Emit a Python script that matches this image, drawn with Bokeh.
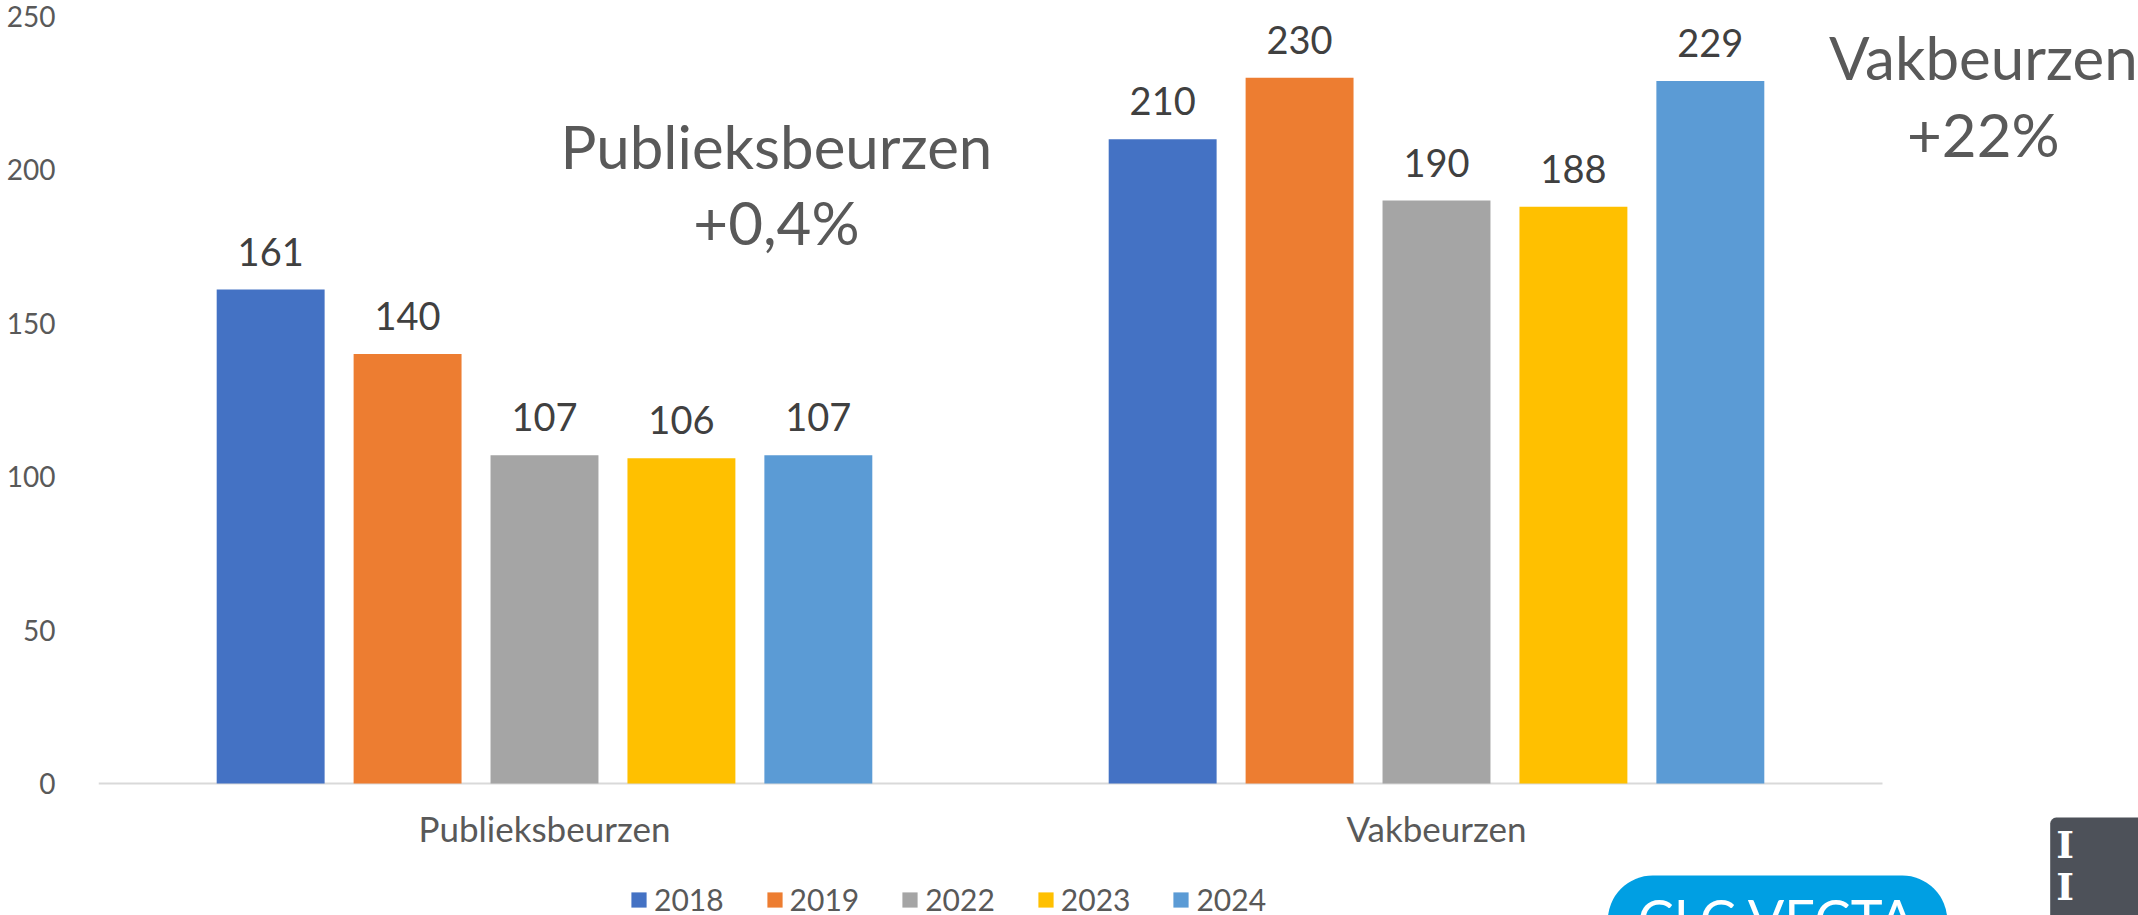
from bokeh.plotting import figure
from bokeh.models import (ColumnDataSource, Range1d, FixedTicker, Legend,
                          LegendItem, Label, LabelSet)
from bokeh.embed import file_html
from bokeh.resources import INLINE
from bokeh.core.properties import value

categories = ["Publieksbeurzen", "Vakbeurzen"]
years = ["2018", "2019", "2022", "2023", "2024"]
v2018 = [161, 210]
v2019 = [140, 230]
v2022 = [107, 190]
v2023 = [106, 188]
v2024 = [107, 229]
colors = ["#4472C4", "#ED7D31", "#A5A5A5", "#FFC000", "#5B9BD5"]
y_ticks = [0, 50, 100, 150, 200, 250]
notes = [("Publieksbeurzen", "+0,4%"), ("Vakbeurzen", "+22%")]

series = [v2018, v2019, v2022, v2023, v2024]
FONT = "Lato"
GREY = "#595959"
n = len(categories)
centers = [i + 0.5 for i in range(n)]

# frame covers the whole canvas right of the y axis; categories occupy x in [0, n]
p = figure(x_range=Range1d(0, 2.287), y_range=Range1d(-43.0, 255.2),
           width=2138, height=915, output_backend="svg", toolbar_location=None,
           x_axis_location=None, y_axis_location="left",
           min_border_left=98, min_border_right=0, min_border_top=0, min_border_bottom=0)
p.outline_line_color = None
p.xgrid.grid_line_color = None
p.ygrid.grid_line_color = None

# baseline (category axis line)
p.segment(x0=[0], y0=[0], x1=[n], y1=[0], line_color="#D9D9D9", line_width=2)

offsets = [-0.307, -0.1535, 0.0, 0.1535, 0.307]
items = []
for yr, c, off, s in zip(years, colors, offsets, series):
    src = ColumnDataSource(data=dict(x=[cx + off for cx in centers], top=s,
                                     t=[str(v) for v in s]))
    r = p.vbar(x="x", top="top", width=0.121, source=src, fill_color=c, line_color=None)
    items.append(LegendItem(label=yr, renderers=[r]))
    p.add_layout(LabelSet(x="x", y="top", text="t", source=src, text_align="center",
                          text_baseline="alphabetic", y_offset=24,
                          text_font=value(FONT), text_font_size="38px",
                          text_color="#404040"))

# category labels (below the baseline)
p.text(x=centers, y=[0] * n, text=categories, text_align="center", text_baseline="alphabetic",
       y_offset=44, text_font=value(FONT), text_font_size="35px", text_color=GREY)

# y axis
p.yaxis.ticker = FixedTicker(ticks=y_ticks)
p.yaxis.axis_line_color = None
p.yaxis.major_tick_line_color = None
p.yaxis.minor_tick_line_color = None
p.yaxis.major_label_standoff = 37
p.yaxis.major_label_text_font = FONT
p.yaxis.major_label_text_font_size = "28px"
p.yaxis.major_label_text_color = GREY

legend = Legend(items=items, orientation="horizontal", location=(531, -2),
                glyph_width=19, glyph_height=19, label_standoff=6, spacing=41,
                padding=0, margin=0, border_line_color=None, background_fill_alpha=0,
                label_text_font=FONT, label_text_font_size="30px", label_text_color=GREY)
p.add_layout(legend, "center")

# annotations
pos = [(0.76, 207.8, 183.1), (2.113, 236.7, 211.7)]
for (t1, t2), (x, ya, yb) in zip(notes, pos):
    p.add_layout(Label(x=x, y=ya, text=t1, text_align="center", text_baseline="alphabetic",
                       text_font=FONT, text_font_size="60px", text_color=GREY))
    p.add_layout(Label(x=x, y=yb, text=t2, text_align="center", text_baseline="alphabetic",
                       text_font=FONT, text_font_size="60px", text_color=GREY))

# logos (bottom right, cut off by the edge); padding = (left, right, top, bottom)
p.add_layout(Label(x=1.692, y=-30.0, text="CLC VECTA", text_align="left", text_baseline="top",
                   text_font=FONT, text_font_size="54px", text_color="white",
                   background_fill_color="#009FE3", border_radius=45,
                   padding=(30, 30, 10, 40)))
p.add_layout(Label(x=2.188, y=-11.1, text="I\nI\nS", text_align="left", text_baseline="top",
                   text_font="DejaVu Serif", text_font_size="38px", text_font_style="bold",
                   text_line_height=0.95, text_color="white",
                   background_fill_color="#4D5159", border_radius=6,
                   padding=(6, 100, 4, 80)))

open("out.html", "w").write(file_html(p, INLINE))
